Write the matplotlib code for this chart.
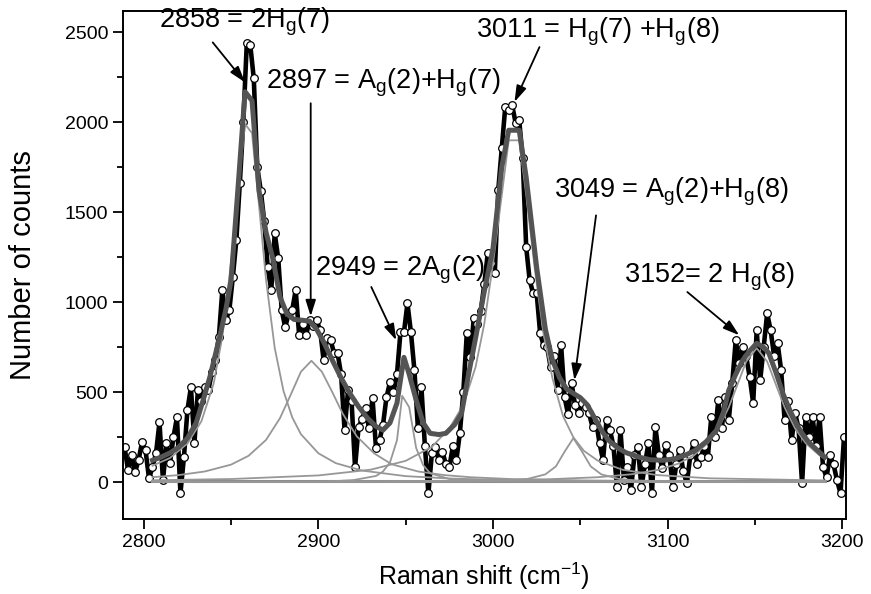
import numpy as np
import matplotlib
matplotlib.use("Agg")
import matplotlib.pyplot as plt
from matplotlib.ticker import MultipleLocator

plt.rcParams['font.family'] = ['Liberation Sans', 'DejaVu Sans']
plt.rcParams['mathtext.fontset'] = 'custom'
plt.rcParams['mathtext.rm'] = 'Liberation Sans'
plt.rcParams['mathtext.default'] = 'regular'

''' Data (read from the picture) '''
# measured spectrum, one point every 2 cm-1 starting at 2789
x_start = 2789
x_step = 2
counts = [194, 67, 150, 56, 122, 222, 178, 22, 83, 160,
          333, 11, 217, 106, 250, 361, -61, 139, 400, 528,
          217, 511, 450, 528, 511, 611, 678, 806, 1067, 900,
          956, 1139, 1344, 1661, 2000, 2439, 2428, 2244, 1750, 1620,
          1450, 1194, 1067, 1383, 1244, 956, 861, 940, 956, 1067,
          817, 880, 820, 900, 870, 900, 844, 678, 800, 789,
          717, 717, 600, 289, 511, 450, 83, 306, 350, 411,
          300, 467, 189, 233, 320, 472, 556, 500, 600, 833,
          833, 994, 833, 622, 300, 528, 200, -61, 161, 194,
          122, 170, 100, 83, 200, 122, 272, 500, 828, 694,
          911, 880, 950, 1100, 1272, 1217, 1161, 1622, 1856, 2084,
          2070, 2094, 1994, 2011, 1800, 1306, 1122, 1050, 1050, 828,
          760, 750, 639, 700, 511, 761, 472, 378, 550, 428,
          383, 439, 417, 383, 306, 344, 217, 122, 344, 289,
          200, -28, 289, 11, 83, -44, 150, 194, -28, 100,
          217, -61, 306, 150, 80, 206, 150, -28, 100, 180,
          60, -6, 150, 217, 100, 139, 200, 139, 361, 250,
          456, 300, 472, 344, 550, 789, 661, 750, 700, 583,
          439, 844, 567, 750, 939, 844, 700, 772, 622, 344,
          450, 233, 383, 300, -6, 361, 250, 361, 200, 361,
          83, 28, 150, 100, 11, -61, 250]

# cumulative fit
fit_x = [2805, 2810, 2815, 2820, 2825, 2830, 2834, 2838, 2843, 2847, 2850, 2854,
         2858, 2862, 2866, 2870, 2874, 2878, 2882, 2886, 2891, 2895, 2899, 2903,
         2908, 2913, 2918, 2923, 2928, 2933, 2937, 2941, 2945, 2949, 2952, 2956,
         2960, 2964, 2969, 2973, 2978, 2982, 2986, 2990, 2995, 3000, 3005, 3009,
         3015, 3019, 3025, 3030, 3034, 3038, 3042, 3046, 3050, 3054, 3058, 3062,
         3066, 3071, 3076, 3084, 3090, 3097, 3104, 3110, 3116, 3122, 3128, 3132,
         3135, 3139, 3143, 3147, 3151, 3155, 3158, 3162, 3166, 3170, 3174, 3177,
         3181, 3186, 3190]
fit_y = [122, 140, 163, 195, 245, 330, 456, 590, 789, 960, 1122, 1640,
         2170, 2120, 1620, 1390, 1240, 1030, 935, 905, 900, 895, 850, 780,
         678, 580, 494, 420, 358, 310, 290, 330, 440, 694, 600, 456,
         330, 272, 265, 272, 320, 383, 600, 800, 1060, 1300, 1750, 1956,
         1956, 1694, 1194, 850, 680, 583, 520, 494, 470, 430, 360, 290,
         235, 194, 165, 139, 125, 122, 130, 150, 178, 225, 289, 390,
         511, 600, 678, 730, 772, 750, 717, 610, 494, 400, 320, 272,
         220, 175, 139]

# single peak components
c1_x = [2805, 2815, 2825, 2833, 2840, 2845, 2850, 2854, 2858, 2862, 2866, 2870, 2875,
        2880, 2885, 2890, 2900, 2910, 2925, 2950, 2975, 3000, 3050, 3100, 3150, 3190]
c1_y = [92, 135, 215, 339, 547, 809, 1223, 1645, 1990, 1940, 1539, 1127, 746,
        508, 361, 267, 161, 106, 65, 34, 21, 14, 8, 5, 3, 3]

c2_x = [2805, 2820, 2835, 2850, 2860, 2870, 2878, 2884, 2890, 2896, 2902, 2908,
        2914, 2922, 2932, 2942, 2957, 2972, 2987, 3010, 3050, 3100, 3190]
c2_y = [28, 40, 60, 98, 147, 235, 356, 483, 614, 675, 614, 500,
        380, 255, 160, 100, 60, 40, 28, 18, 10, 6, 3]

c3_x = [2805, 2900, 2920, 2933, 2937, 2941, 2945, 2948, 2952, 2956, 2960, 2964,
        2975, 3000, 3100, 3190]
c3_y = [1, 2, 12, 35, 60, 110, 233, 480, 417, 190, 95, 50, 18, 5, 1, 1]

c4_x = [2805, 2850, 2900, 2930, 2950, 2965, 2975, 2983, 2990, 2995, 3000, 3005, 3009,
        3015, 3019, 3024, 3029, 3034, 3040, 3046, 3052, 3060, 3074, 3094, 3124, 3190]
c4_y = [11, 18, 38, 70, 119, 197, 299, 430, 640, 880, 1216, 1595, 1900,
        1900, 1600, 1180, 820, 580, 370, 250, 175, 120, 70, 40, 22, 10]

c5_x = [2805, 2950, 2990, 3010, 3020, 3030, 3036, 3041, 3046, 3051, 3056, 3062,
        3072, 3082, 3102, 3140, 3190]
c5_y = [1, 2, 4, 10, 19, 44, 88, 170, 245, 170, 88, 44, 19, 10, 4, 2, 1]

c6_x = [2805, 2900, 2980, 3030, 3060, 3080, 3095, 3106, 3115, 3123, 3129, 3135,
        3140, 3145, 3151, 3157, 3162, 3167, 3173, 3179, 3187, 3190]
c6_y = [2, 4, 8, 16, 28, 45, 70, 103, 149, 218, 299, 416,
        543, 671, 745, 671, 543, 416, 299, 218, 149, 131]

base_x = [2805, 3190]
base_y = [8, 8]

# (label, arrow head, arrow tail, text left/centre)
notes = [
    (r'2858 = 2H$_g$(7)', (2858, 2222), (2839.5, 2444), (2809, 2556)),
    (r'2897 = A$_g$(2)+H$_g$(7)', (2895.6, 922), (2895.6, 2106), (2870, 2217)),
    (r'2949 = 2A$_g$(2)', (2944.6, 789), (2930.3, 1085), (2898, 1183)),
    (r'3011 = H$_g$(7) +H$_g$(8)', (3012.3, 2113), (3026.6, 2418), (2990, 2500)),
    (r'3049 = A$_g$(2)+H$_g$(8)', (3046.6, 567), (3059, 1483), (3035, 1611)),
    (r'3152= 2 H$_g$(8)', (3141, 817), (3111.3, 1057), (3075, 1144)),
]

''' Plot '''
x = x_start + x_step * np.arange(len(counts))

fig = plt.figure(figsize=(8.71, 5.94), dpi=100)
ax = fig.add_axes([0.141, 0.126, 0.830, 0.855])

ax.plot(x, counts, color='black', lw=3.3, marker='o', ms=5.5, mfc='white',
        mec='black', mew=0.9, zorder=2)

comp_col = '#979797'
ax.plot(base_x, base_y, color='#8a8a8a', lw=2.2, zorder=3)
for cx, cy in [(c1_x, c1_y), (c2_x, c2_y), (c3_x, c3_y),
               (c4_x, c4_y), (c5_x, c5_y), (c6_x, c6_y)]:
    ax.plot(cx, cy, color=comp_col, lw=1.3, zorder=3)

ax.plot(fit_x, fit_y, color='#545454', lw=3.6, zorder=4)

for label, head, tail, pos in notes:
    ax.annotate('', xy=head, xytext=tail,
                arrowprops=dict(arrowstyle='-|>,head_length=0.7,head_width=0.22',
                                color='black', lw=1.3, mutation_scale=14,
                                shrinkA=0, shrinkB=0), zorder=5)
    ax.text(pos[0], pos[1], label, fontsize=19.5, ha='left', va='center', zorder=6)

ax.set_xlim(2788, 3202)
ax.set_ylim(-205, 2617)
ax.xaxis.set_major_locator(MultipleLocator(100))
ax.xaxis.set_minor_locator(MultipleLocator(50))
ax.yaxis.set_major_locator(MultipleLocator(500))
ax.yaxis.set_minor_locator(MultipleLocator(250))
ax.tick_params(which='major', direction='out', length=7, width=1.3, labelsize=14)
ax.tick_params(which='minor', direction='out', length=4, width=1.3)
for sp in ax.spines.values():
    sp.set_linewidth(1.4)

ax.set_xlabel(r'Raman shift (cm$^{-1}$)', fontsize=18, labelpad=7)
ax.set_ylabel('Number of counts', fontsize=21, labelpad=20)

fig.savefig('out.png', dpi=100)
